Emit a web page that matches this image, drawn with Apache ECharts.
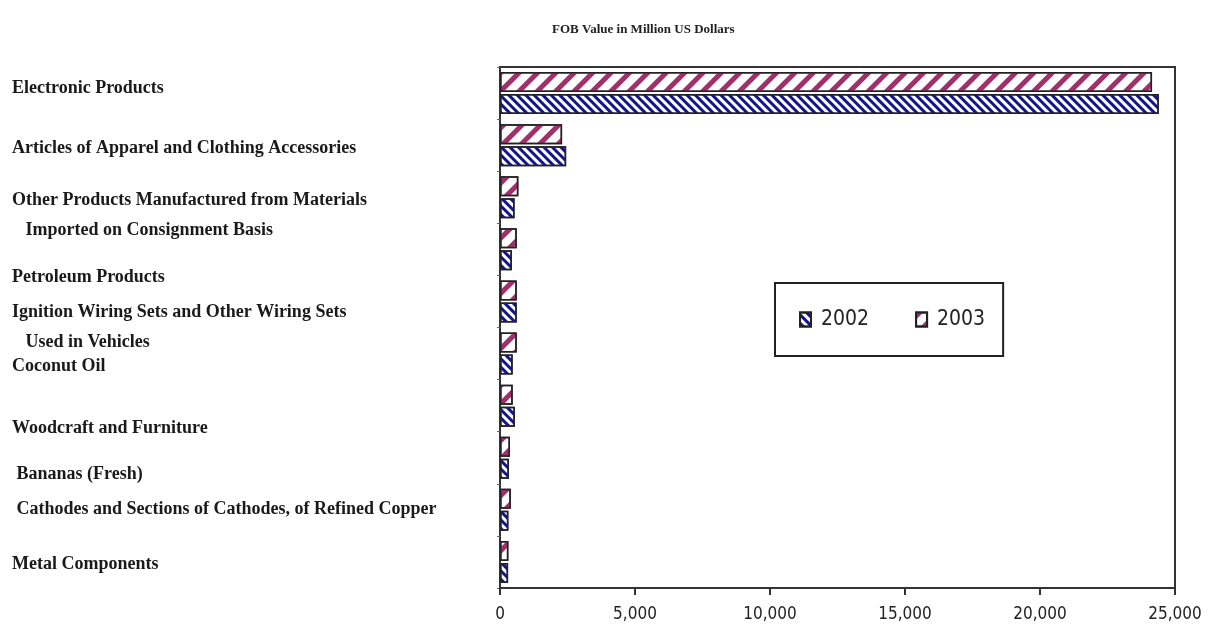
<!DOCTYPE html>
<html>
<head>
<meta charset="utf-8">
<title>FOB Value in Million US Dollars</title>
<script src="https://cdn.jsdelivr.net/npm/echarts@6/dist/echarts.min.js"></script>
<style>
  html, body { margin: 0; padding: 0; background: #fff; }
  #main { width: 1217px; height: 631px; }
</style>
</head>
<body>
<div id="main"></div>
<script>
// categories, top to bottom
const categories = [
  'Electronic Products',
  'Articles of Apparel and Clothing Accessories',
  'Other Products Manufactured from Materials\n   Imported on Consignment Basis',
  'Petroleum Products',
  'Ignition Wiring Sets and Other Wiring Sets\n   Used in Vehicles',
  'Coconut Oil',
  'Woodcraft and Furniture',
  ' Bananas (Fresh)',
  ' Cathodes and Sections of Cathodes, of Refined Copper',
  'Metal Components'
];
const years = ['2002', '2003'];
const values2002 = [24400, 2450, 540, 440, 620, 470, 550, 330, 310, 300];
const values2003 = [24150, 2300, 680, 620, 620, 620, 470, 370, 400, 310];
const xTicks = [0, 5000, 10000, 15000, 20000, 25000];

const myChart = echarts.init(document.getElementById('main'));

const narrow = "'Liberation Sans Narrow', 'DejaVu Sans Condensed', 'Liberation Sans', sans-serif";
const serif = "'Liberation Serif', 'DejaVu Serif', serif";

// the original labels sit a little off their bars; nudge them down (px)
const labelNudge = [-5, 3, 18, 28, 26, 13, 23, 17, -1, 2];
const LH = 30;

function fmt(v) {
  return String(v).replace(/\B(?=(\d{3})+(?!\d))/g, ',');
}

// single lines get padding, two-line labels get an empty spacer line on top
const labelRich = { b: { lineHeight: LH } };
labelNudge.forEach((s, i) => {
  labelRich['n' + i] = {
    lineHeight: LH,
    padding: s >= 0 ? [2 * s, 0, 0, 0] : [0, 0, -2 * s, 0]
  };
  labelRich['g' + i] = { lineHeight: Math.max(1, 2 * s), fontSize: 1 };
});

const option = {
  backgroundColor: '#fff',
  animation: false,
  title: {
    text: 'FOB Value in Million US Dollars',
    left: 547,
    top: 18,
    textStyle: { fontFamily: serif, fontSize: 13, fontWeight: 'bold', color: '#222' }
  },
  legend: {
    data: years,
    left: 775,
    top: 283,
    padding: [26, 18, 26, 24],
    itemGap: 46,
    itemWidth: 11,
    itemHeight: 14,
    icon: 'rect',
    borderColor: '#222',
    borderWidth: 2,
    textStyle: { fontFamily: narrow, fontSize: 21, color: '#222', padding: [0, 0, 0, 5] }
  },
  grid: {
    left: 500,
    right: 42,
    top: 67,
    bottom: 43,
    outerBoundsMode: 'none',
    containLabel: false,
    show: true,
    borderColor: '#333',
    borderWidth: 2
  },
  xAxis: {
    type: 'value',
    min: xTicks[0],
    max: xTicks[xTicks.length - 1],
    interval: xTicks[1] - xTicks[0],
    splitLine: { show: false },
    axisLine: { show: true, lineStyle: { color: '#333', width: 2 } },
    axisTick: { show: true, length: 7, lineStyle: { color: '#333', width: 2 } },
    axisLabel: {
      margin: 18,
      fontFamily: narrow,
      fontSize: 17,
      color: '#222',
      formatter: fmt
    }
  },
  yAxis: {
    type: 'category',
    inverse: true,
    data: categories,
    axisLine: { show: true, lineStyle: { color: '#333', width: 2 } },
    axisTick: { show: true, length: 3, lineStyle: { color: '#666' } },
    axisLabel: {
      align: 'left',
      margin: 488,
      fontFamily: serif,
      fontSize: 18,
      fontWeight: 'bold',
      lineHeight: LH,
      color: '#1a1a1a',
      formatter: function (value, index) {
        const lines = value.split('\n');
        if (lines.length === 1) {
          return '{n' + index + '|' + value + '}';
        }
        return '{g' + index + '| }\n' + lines.map(function (line) {
          return '{b|' + line + '}';
        }).join('\n');
      },
      rich: labelRich
    }
  },
  series: [
    {
      name: '2003',
      type: 'bar',
      data: values2003,
      barWidth: 20,
      barGap: '10%',
      itemStyle: {
        color: '#fff',
        borderColor: '#222',
        borderWidth: 1.5,
        decal: {
          symbol: 'rect',
          symbolSize: 1,
          color: '#a0306a',
          dashArrayX: [1, 0],
          dashArrayY: [5, 8],
          rotation: -Math.PI / 4
        }
      }
    },
    {
      name: '2002',
      type: 'bar',
      data: values2002,
      barWidth: 20,
      barGap: '10%',
      itemStyle: {
        color: '#fff',
        borderColor: '#222',
        borderWidth: 1.5,
        decal: {
          symbol: 'rect',
          symbolSize: 1,
          color: '#14148c',
          dashArrayX: [1, 0],
          dashArrayY: [3, 2.5],
          rotation: Math.PI / 4
        }
      }
    }
  ]
};

myChart.setOption(option);
window.onresize = function () {
  myChart.resize();
};
</script>
</body>
</html>
